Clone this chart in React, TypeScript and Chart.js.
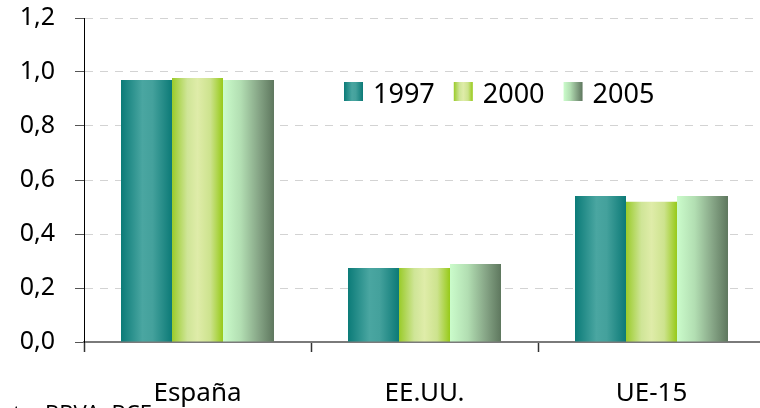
import React, { useEffect, useRef } from 'react';
import { Chart, registerables } from 'chart.js';

Chart.register(...registerables);

const categories = ['España', 'EE.UU.', 'UE-15'];
const seriesLabels = ['1997', '2000', '2005'];
const values1997 = [0.97, 0.274, 0.541];
const values2000 = [0.978, 0.274, 0.519];
const values2005 = [0.97, 0.289, 0.541];
const yTicks = [0, 0.2, 0.4, 0.6, 0.8, 1.0, 1.2];
const sourceText = 'Fuente: BBVA, BCE';

const FONT = "'Noto Sans', 'DejaVu Sans', sans-serif";

const gradientStops: [number, string][][] = [
  [[0, '#0b7b78'], [0.42, '#4aa6a1'], [0.62, '#44a19c'], [1, '#0c7a77']],
  [[0, '#9acb2a'], [0.3, '#cfe597'], [0.5, '#dfeca9'], [0.75, '#cde38e'], [1, '#97ca18']],
  [[0, '#cbfccb'], [0.35, '#b2deb2'], [0.7, '#86a586'], [1, '#5e775e']],
];
const solidColors = ['#2e918d', '#c4df7c', '#98bc98'];

const makeGradient = (ctx: CanvasRenderingContext2D, i: number, x0: number, x1: number) => {
  const g = ctx.createLinearGradient(x0, 0, x1, 0);
  gradientStops[i].forEach(([o, c]) => g.addColorStop(o, c));
  return g;
};

const gradientPlugin = {
  id: 'barGradients',
  beforeDatasetsDraw(chart: any) {
    const ctx = chart.ctx;
    chart.data.datasets.forEach((_: any, i: number) => {
      const meta = chart.getDatasetMeta(i);
      meta.data.forEach((el: any) => {
        const { x, width } = el.getProps(['x', 'width'], true);
        el.options.backgroundColor = makeGradient(ctx, i, x - width / 2, x + width / 2);
      });
    });
  },
};

const legendPlugin = {
  id: 'insideLegend',
  afterDraw(chart: any) {
    const ctx: CanvasRenderingContext2D = chart.ctx;
    ctx.save();
    ctx.font = `27px ${FONT}`;
    ctx.textBaseline = 'alphabetic';
    ctx.textAlign = 'left';
    let x = 344;
    const boxY = 82;
    const box = 19;
    seriesLabels.forEach((label, i) => {
      ctx.fillStyle = makeGradient(ctx, i, x, x + box);
      ctx.fillRect(x, boxY, box, box);
      ctx.fillStyle = '#000';
      const tx = x + box + 10;
      ctx.fillText(label, tx, 103);
      x = tx + ctx.measureText(label).width + 19;
    });
    ctx.font = `22px ${FONT}`;
    ctx.textAlign = 'right';
    ctx.fillText(sourceText, 152, 421);
    ctx.restore();
  },
};

export default function App() {
  const ref = useRef<HTMLCanvasElement | null>(null);
  useEffect(() => {
    document.body.style.margin = '0';
    if (!ref.current) return;
    const chart = new Chart(ref.current, {
      type: 'bar',
      data: {
        labels: categories,
        datasets: [values1997, values2000, values2005].map((d, i) => ({
          label: seriesLabels[i],
          data: d,
          backgroundColor: (c: any) => solidColors[c.datasetIndex],
          borderWidth: 0,
          categoryPercentage: 0.674,
          barPercentage: 1,
        })),
      },
      options: {
        animation: false,
        responsive: false,
        maintainAspectRatio: false,
        devicePixelRatio: 1,
        layout: { autoPadding: false, padding: { top: 18, left: 0, right: 0, bottom: 0 } },
        plugins: {
          legend: { display: false },
          tooltip: { enabled: false },
          title: { display: false },
          subtitle: { display: false },
        },
        scales: {
          x: {
            grid: {
              display: true,
              drawOnChartArea: false,
              drawTicks: true,
              tickLength: 10,
              tickColor: '#333',
              tickWidth: 1.5,
              offset: true,
            },
            border: { display: true, color: '#7a7a7a', width: 2 },
            ticks: { color: '#000', font: { family: FONT, size: 26 }, padding: 26 },
            afterFit: (s: any) => { s.height = 66; s.paddingTop = 0; s.paddingBottom = 0; },
          },
          y: {
            min: 0,
            max: 1.2,
            afterBuildTicks: (s: any) => { s.ticks = yTicks.map((v) => ({ value: v })); },
            grid: {
              color: '#d3d3d3',
              lineWidth: 1,
              tickLength: 9,
              tickColor: '#555',
              tickBorderDash: [],
            },
            border: { display: true, color: '#000', width: 1, dash: [8, 7] },
            ticks: {
              color: '#000',
              font: { family: FONT, size: 25 },
              padding: 20,
              callback: (v: any) => Number(v).toFixed(1).replace('.', ','),
            },
            afterFit: (s: any) => { s.width = 84; s.paddingTop = 0; s.paddingBottom = 0; },
          },
        },
      },
      plugins: [gradientPlugin, legendPlugin],
    });
    return () => chart.destroy();
  }, []);
  return (
    <div style={{ position: 'fixed', left: 0, top: 0, width: 760, height: 408, overflow: 'hidden', background: '#fff' }}>
      <canvas ref={ref} width={765} height={408} style={{ width: 765, height: 408, display: 'block' }} />
    </div>
  );
}
